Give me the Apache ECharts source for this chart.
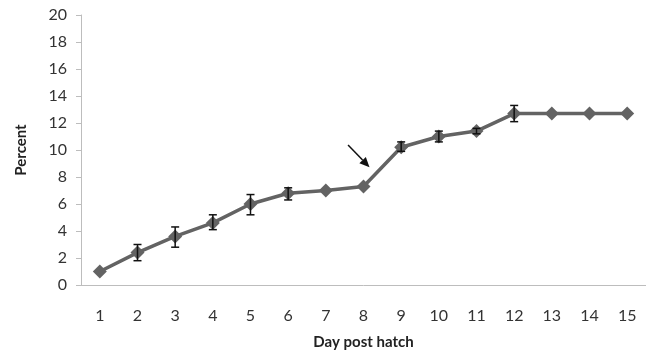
<!DOCTYPE html>
<html>
<head>
<meta charset="utf-8">
<script src="https://cdn.jsdelivr.net/npm/echarts@6/dist/echarts.min.js"></script>
<style>
  html, body { margin: 0; padding: 0; background: #fff; }
  #chart { width: 646px; height: 360px; }
</style>
</head>
<body>
<div id="chart"></div>
<script>
// 数据
const days = ["1", "2", "3", "4", "5", "6", "7", "8", "9", "10", "11", "12", "13", "14", "15"];
const percent = [1.0, 2.4, 3.6, 4.6, 6.0, 6.8, 7.0, 7.3, 10.2, 11.0, 11.4, 12.7, 12.7, 12.7, 12.7];
const errLow = [0.9, 1.8, 2.8, 4.1, 5.2, 6.3, 6.9, 7.2, 9.9, 10.6, 11.2, 12.1, 12.7, 12.7, 12.7];
const errHigh = [1.1, 3.0, 4.3, 5.2, 6.7, 7.2, 7.1, 7.4, 10.6, 11.4, 11.6, 13.3, 12.7, 12.7, 12.7];
const yTicks = [0, 2, 4, 6, 8, 10, 12, 14, 16, 18, 20];
// 箭头（类目索引, 数值）
const arrowFrom = [6.59, 10.37];
const arrowTo = [7.16, 8.72];

const chart = echarts.init(document.getElementById("chart"));

const font = "Lato, 'Open Sans', sans-serif";

const option = {
  animation: false,
  grid: {
    left: 81,
    right: -2,
    top: 15,
    bottom: 75
  },
  xAxis: {
    type: "category",
    data: days,
    boundaryGap: true,
    name: "Day post hatch",
    nameLocation: "middle",
    nameGap: 50,
    nameTextStyle: { fontFamily: font, fontSize: 15, fontWeight: "bold", color: "#222" },
    axisLine: { lineStyle: { color: "#bdbdbd", width: 1 } },
    axisTick: { show: false },
    axisLabel: { fontFamily: font, fontSize: 16, color: "#333", margin: 23 }
  },
  yAxis: {
    type: "value",
    min: yTicks[0],
    max: yTicks[yTicks.length - 1],
    interval: 2,
    name: "Percent",
    nameLocation: "middle",
    nameGap: 52,
    nameTextStyle: { fontFamily: font, fontSize: 15, fontWeight: "bold", color: "#222" },
    axisLine: { show: true, lineStyle: { color: "#bdbdbd", width: 1 } },
    axisTick: { show: true, inside: false, length: 5, lineStyle: { color: "#bdbdbd" } },
    splitLine: { show: false },
    axisLabel: { fontFamily: font, fontSize: 16, color: "#333", margin: 14 }
  },
  series: [
    {
      type: "line",
      data: percent,
      symbol: "diamond",
      symbolSize: 14,
      lineStyle: { color: "#636363", width: 3.5 },
      itemStyle: { color: "#636363" },
      z: 2
    },
    {
      type: "custom",
      z: 3,
      data: percent.map((v, i) => [i, errLow[i], errHigh[i]]),
      renderItem: (params, api) => {
        const lo = api.coord([api.value(0), api.value(1)]);
        const hi = api.coord([api.value(0), api.value(2)]);
        if (Math.abs(hi[1] - lo[1]) < 4) return null;
        const cap = 4;
        const style = { stroke: "#111", lineWidth: 1.5 };
        return {
          type: "group",
          children: [
            { type: "line", shape: { x1: lo[0], y1: lo[1], x2: hi[0], y2: hi[1] }, style },
            { type: "line", shape: { x1: lo[0] - cap, y1: lo[1], x2: lo[0] + cap, y2: lo[1] }, style },
            { type: "line", shape: { x1: hi[0] - cap, y1: hi[1], x2: hi[0] + cap, y2: hi[1] }, style }
          ]
        };
      }
    }
  ]
};

chart.setOption(option);

// 类目轴上的小数索引：在相邻类目之间插值
const toPixel = (pt) => {
  const i0 = Math.floor(pt[0]);
  const t = pt[0] - i0;
  const a = chart.convertToPixel({ gridIndex: 0 }, [i0, pt[1]]);
  const b = chart.convertToPixel({ gridIndex: 0 }, [i0 + 1, pt[1]]);
  return [a[0] + (b[0] - a[0]) * t, a[1]];
};

// 箭头标注
const p1 = toPixel(arrowFrom);
const p2 = toPixel(arrowTo);
const ang = Math.atan2(p2[1] - p1[1], p2[0] - p1[0]);
const headLen = 10, headW = 4.5;
const bx = p2[0] - headLen * Math.cos(ang);
const by = p2[1] - headLen * Math.sin(ang);
const nx = -Math.sin(ang), ny = Math.cos(ang);
chart.setOption({
  graphic: [
    {
      type: "line",
      shape: { x1: p1[0], y1: p1[1], x2: bx, y2: by },
      style: { stroke: "#111", lineWidth: 1.5 }
    },
    {
      type: "polygon",
      shape: {
        points: [
          [p2[0], p2[1]],
          [bx + nx * headW, by + ny * headW],
          [bx - nx * headW, by - ny * headW]
        ]
      },
      style: { fill: "#111" }
    }
  ]
});
</script>
</body>
</html>
